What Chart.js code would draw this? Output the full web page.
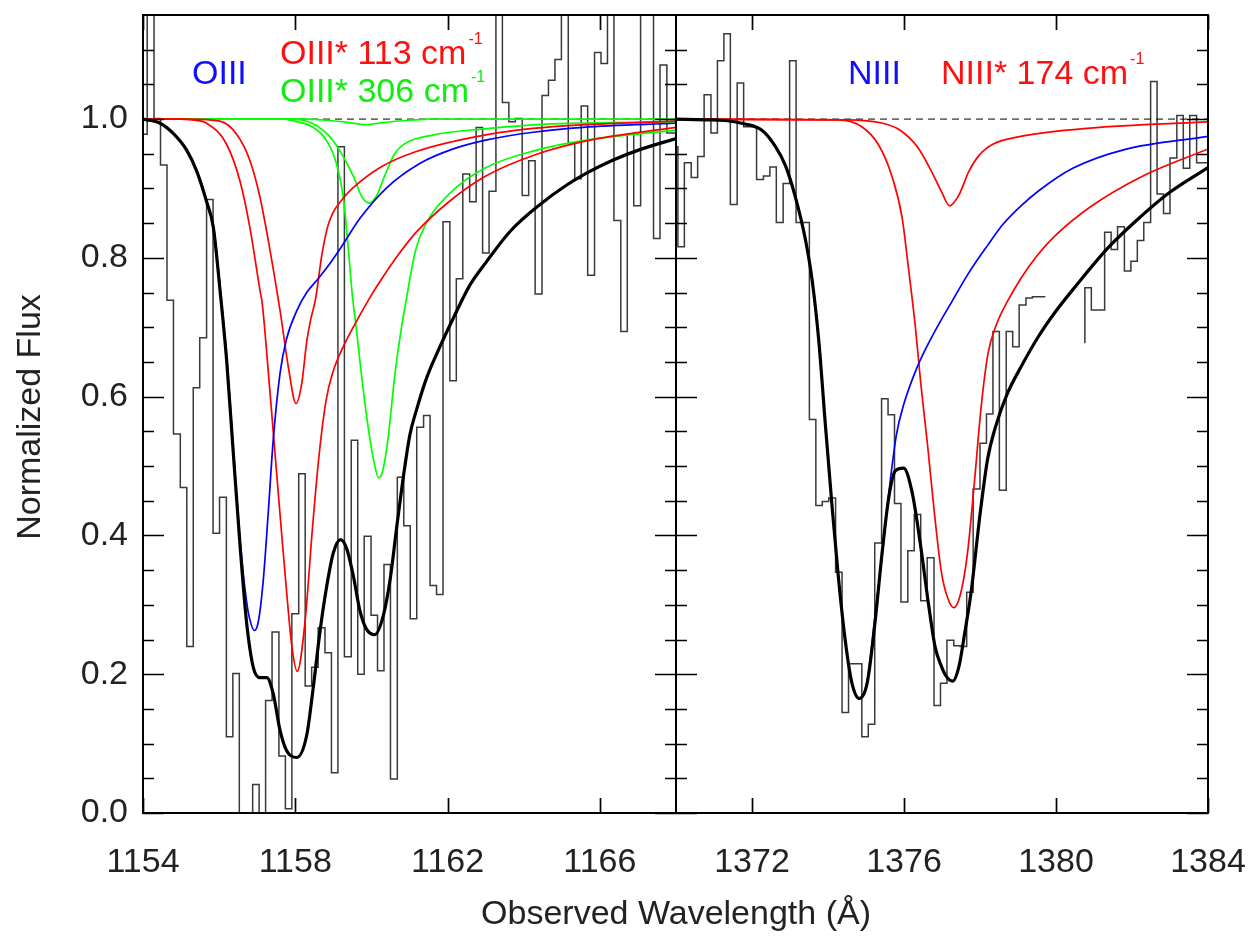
<!DOCTYPE html>
<html>
<head>
<meta charset="utf-8">
<script src="https://cdn.jsdelivr.net/npm/chart.js@4.4.1/dist/chart.umd.min.js"></script>
<style>
html,body{margin:0;padding:0;background:#ffffff;}
#wrap{position:relative;width:1253px;height:938px;overflow:hidden;background:#fff;font-family:"Liberation Sans",Arial,Helvetica,sans-serif;}
#wrap canvas{position:absolute;left:0;top:0;}
.t{position:absolute;white-space:nowrap;font-size:34px;line-height:34px;}
.t .s{font-size:16px;position:relative;top:-20px;margin-left:2px;}
</style>
</head>
<body>
<div id="wrap">
<canvas id="cL" width="1253" height="938"></canvas>
<canvas id="cR" width="1253" height="938"></canvas>
<div class="t" style="left:192px;top:54.5px;color:#1010ff">OIII</div>
<div class="t" style="left:280px;top:34.5px;color:#ff1010">OIII* 113 cm<span class="s">-1</span></div>
<div class="t" style="left:280px;top:73px;color:#10ee10">OIII* 306 cm<span class="s">-1</span></div>
<div class="t" style="left:848px;top:54.5px;color:#1010ff">NIII</div>
<div class="t" style="left:941px;top:54.5px;color:#ff1010">NIII* 174 cm<span class="s">-1</span></div>
<div class="t" style="left:376px;top:895px;width:600px;text-align:center;color:#222">Observed Wavelength (Å)</div>
<div class="t" style="left:11px;top:617px;width:400px;text-align:center;color:#222;transform-origin:0 0;transform:rotate(-90deg)">Normalized Flux</div>
</div>
<script>
// ---------- axis ticks ----------
const yTickValues = [0.0, 0.2, 0.4, 0.6, 0.8, 1.0];
const yMinorValues = [0.05,0.1,0.15,0.25,0.3,0.35,0.45,0.5,0.55,0.65,0.7,0.75,0.85,0.9,0.95,1.05,1.1];
const xTicksLeft = [1154, 1158, 1162, 1166];
const xTicksRight = [1372, 1376, 1380, 1384];
const continuum = [1.0, 1.0];

// ---------- observed spectrum (step histogram) : O III panel ----------
const histLeftEdges = [1153.94,1154.11,1154.29,1154.46,1154.63,1154.80,1154.98,1155.15,1155.32,1155.49,
1155.67,1155.84,1156.01,1156.19,1156.36,1156.53,1156.70,1156.88,1157.05,1157.22,
1157.39,1157.57,1157.74,1157.91,1158.09,1158.26,1158.43,1158.60,1158.78,1158.95,
1159.12,1159.29,1159.47,1159.64,1159.81,1159.99,1160.16,1160.33,1160.50,1160.68,
1160.85,1161.02,1161.19,1161.37,1161.54,1161.71,1161.88,1162.06,1162.23,1162.40,
1162.58,1162.75,1162.92,1163.09,1163.27,1163.44,1163.61,1163.78,1163.96,1164.13,
1164.30,1164.48,1164.65,1164.82,1164.99,1165.17,1165.34,1165.51,1165.68,1165.86,
1166.03,1166.20,1166.37,1166.55,1166.72,1166.89,1167.07,1167.24,1167.41,1167.58,
1167.76,1167.93,1168.10];
const histLeftFlux = [0.903,0.978,1.20,1.001,0.934,0.739,0.546,0.469,0.240,0.613,
0.685,0.884,0.403,0.455,0.110,0.201,-0.05,-0.05,0.041,-0.05,
0.162,0.261,0.082,0.006,0.287,0.489,0.183,0.210,0.267,0.231,
0.058,0.960,0.225,0.537,0.200,0.399,0.285,0.205,0.358,0.049,
0.484,0.414,0.280,0.556,0.573,0.328,0.315,0.852,0.623,0.770,
0.921,0.881,0.988,0.807,0.896,1.20,1.024,0.996,1.001,0.890,
0.940,0.748,1.034,1.056,1.086,1.20,0.966,0.914,1.019,0.775,
1.096,1.080,1.20,0.854,0.694,0.978,0.875,1.20,1.20,0.828,
1.078,0.98];

// ---------- observed spectrum : N III panel ----------
const histRightEdges = [1369.88,1370.05,1370.22,1370.40,1370.57,1370.74,1370.92,1371.09,1371.26,1371.43,
1371.61,1371.78,1371.95,1372.12,1372.30,1372.47,1372.64,1372.82,1372.99,1373.16,
1373.33,1373.51,1373.68,1373.85,1374.02,1374.20,1374.37,1374.54,1374.72,1374.89,
1375.06,1375.23,1375.41,1375.58,1375.75,1375.92,1376.10,1376.27,1376.44,1376.61,
1376.79,1376.96,1377.13,1377.31,1377.48,1377.65,1377.82,1378.00,1378.17,1378.34,
1378.51,1378.69,1378.86,1379.03,1379.21,1379.38,1379.55,1379.72,1379.90,1380.07,
1380.24,1380.41,1380.59,1380.76,1380.93,1381.10,1381.28,1381.45,1381.62,1381.80,
1381.97,1382.14,1382.31,1382.49,1382.66,1382.83,1383.00,1383.18,1383.35,1383.52,
1383.70,1383.87,1384.04];
const histRightFlux = [0.96,0.960,0.816,0.937,0.916,0.946,1.035,0.980,1.084,1.123,
0.877,1.052,0.989,0.989,0.913,0.918,0.931,0.851,0.907,1.084,
0.851,0.851,0.567,0.443,0.449,0.454,0.347,0.145,0.215,0.215,
0.110,0.128,0.389,0.597,0.574,0.446,0.304,0.378,0.430,0.306,
0.368,0.155,0.187,0.249,0.241,0.240,0.318,0.467,0.533,0.575,
0.694,0.465,0.694,0.672,0.732,0.742,0.744,null,null,null,
null,null,null,0.677,0.757,0.725,0.725,0.837,0.812,0.845,
0.781,0.795,0.825,0.851,1.054,0.892,0.864,0.944,1.005,0.929,
1.005,0.937];

// ---------- model profiles : O III panel ----------
const totalLeftWave = [1154.0,1154.45,1154.8,1155.15,1155.41,1155.67,1155.85,1156.02,1156.2,1156.37,1156.55,1156.72,1156.9,1157.07,1157.25,1157.42,1157.6,1157.77,1158.04,1158.3,1158.47,1158.65,1158.82,1159.0,1159.19,1159.35,1159.52,1159.7,1159.87,1160.09,1160.31,1160.49,1160.66,1160.84,1161.01,1161.19,1161.45,1161.8,1162.15,1162.59,1163.03,1163.64,1164.43,1165.13,1165.65,1166.35,1167.05,1168.0];
const totalLeftFlux = [1.0,0.994,0.979,0.955,0.925,0.881,0.843,0.755,0.650,0.520,0.385,0.275,0.209,0.195,0.195,0.172,0.119,0.090,0.080,0.112,0.180,0.262,0.325,0.375,0.394,0.381,0.343,0.291,0.265,0.257,0.284,0.336,0.410,0.485,0.545,0.582,0.627,0.672,0.713,0.761,0.795,0.838,0.877,0.905,0.922,0.941,0.956,0.972];

const o3Wave = [1154.0,1154.45,1154.8,1155.15,1155.41,1155.67,1155.85,1156.02,1156.2,1156.37,1156.55,1156.72,1156.81,1156.93,1157.03,1157.16,1157.29,1157.42,1157.6,1157.77,1158.04,1158.3,1158.6,1158.91,1159.2,1159.7,1160.4,1161.27,1162.15,1163.03,1164.25,1165.56,1168.0];
const o3Flux = [1.0,0.994,0.979,0.955,0.926,0.883,0.846,0.760,0.656,0.527,0.393,0.305,0.278,0.263,0.276,0.336,0.433,0.537,0.634,0.683,0.724,0.750,0.770,0.792,0.815,0.857,0.901,0.936,0.957,0.970,0.981,0.988,0.994];

const o3s113aWave = [1154.0,1155.0,1155.23,1155.67,1156.2,1156.55,1156.81,1157.07,1157.13,1157.3,1157.42,1157.6,1157.77,1157.91,1158.05,1158.26,1158.44,1158.62,1158.81,1158.98,1159.26,1159.62,1159.94,1160.25,1160.7,1161.16,1162.06,1162.97,1164.32,1165.68,1168.0];
const o3s113aFlux = [1.0,1.0,0.999,0.994,0.963,0.910,0.843,0.754,0.735,0.630,0.550,0.430,0.320,0.240,0.204,0.278,0.403,0.513,0.595,0.634,0.672,0.710,0.741,0.768,0.804,0.836,0.882,0.917,0.949,0.969,0.988];

const o3s113bWave = [1154.0,1155.2,1156.02,1156.46,1156.81,1157.07,1157.33,1157.6,1157.82,1158.02,1158.17,1158.3,1158.4,1158.53,1158.7,1158.85,1159.0,1159.2,1159.5,1160.25,1161.16,1162.97,1164.77,1168.0];
const o3s113bFlux = [1.0,1.0,0.997,0.978,0.940,0.888,0.813,0.724,0.642,0.590,0.619,0.679,0.710,0.740,0.805,0.845,0.866,0.882,0.900,0.931,0.953,0.977,0.989,0.997];

const o3s306aWave = [1154.0,1158.3,1158.9,1159.4,1159.84,1160.3,1160.9,1161.6,1168.0];
const o3s306aFlux = [1.0,1.0,0.998,0.995,0.992,0.995,0.998,1.0,1.0];

const o3s306bWave = [1154.0,1157.9,1158.44,1158.9,1159.26,1159.53,1159.75,1159.94,1160.12,1160.34,1160.61,1160.89,1161.61,1162.97,1164.77,1168.0];
const o3s306bFlux = [1.0,1.0,0.994,0.975,0.946,0.917,0.888,0.879,0.888,0.917,0.950,0.965,0.977,0.986,0.993,0.996];

const o3s306cWave = [1154.0,1157.72,1157.99,1158.44,1158.81,1159.08,1159.26,1159.39,1159.5,1159.6,1159.71,1159.89,1160.07,1160.19,1160.3,1160.43,1160.61,1160.79,1160.9,1161.16,1161.43,1162.06,1162.97,1164.32,1165.68,1168.0];
const o3s306cFlux = [1.0,1.0,0.997,0.989,0.970,0.936,0.888,0.815,0.745,0.700,0.645,0.565,0.505,0.483,0.494,0.537,0.629,0.700,0.735,0.811,0.849,0.893,0.929,0.955,0.970,0.984];

// ---------- model profiles : N III panel ----------
const totalRightWave = [1370.0,1370.77,1371.3,1371.82,1372.26,1372.61,1372.88,1373.14,1373.4,1373.58,1373.76,1373.93,1374.11,1374.28,1374.46,1374.63,1374.82,1375.03,1375.24,1375.42,1375.6,1375.77,1375.99,1376.21,1376.43,1376.65,1376.82,1376.98,1377.1,1377.28,1377.45,1377.6,1377.77,1378.0,1378.2,1378.4,1378.7,1379.08,1379.53,1379.98,1380.5,1381.38,1382.08,1382.96,1384.0];
const totalRightFlux = [1.0,0.999,0.998,0.993,0.984,0.961,0.933,0.888,0.828,0.769,0.679,0.560,0.440,0.336,0.246,0.187,0.165,0.187,0.276,0.373,0.455,0.493,0.497,0.463,0.388,0.299,0.239,0.212,0.198,0.190,0.212,0.260,0.320,0.430,0.510,0.555,0.602,0.643,0.686,0.722,0.758,0.815,0.852,0.893,0.930];

const n3Wave = [1370.0,1370.77,1371.3,1371.82,1372.26,1372.61,1372.88,1373.14,1373.4,1373.58,1373.76,1373.93,1374.11,1374.28,1374.46,1374.63,1374.82,1375.03,1375.24,1375.45,1375.63,1375.8,1376.0,1376.35,1376.8,1377.26,1377.7,1378.2,1378.6,1379.1,1379.53,1380.44,1381.8,1384.0];
const n3Flux = [1.0,0.999,0.998,0.993,0.984,0.961,0.933,0.888,0.828,0.769,0.679,0.560,0.440,0.336,0.246,0.187,0.165,0.190,0.285,0.385,0.475,0.545,0.590,0.643,0.693,0.737,0.778,0.818,0.848,0.876,0.896,0.929,0.956,0.975];

const n3s174aWave = [1370.0,1374.5,1375.44,1375.9,1376.35,1376.72,1376.99,1377.2,1377.44,1377.71,1377.98,1378.35,1379.07,1380.89,1384.0];
const n3s174aFlux = [1.0,0.999,0.994,0.984,0.960,0.925,0.895,0.875,0.890,0.925,0.948,0.964,0.975,0.987,0.996];

const n3s174bWave = [1370.0,1374.28,1374.89,1375.33,1375.68,1375.95,1376.12,1376.3,1376.44,1376.62,1376.81,1376.99,1377.17,1377.31,1377.49,1377.67,1377.85,1378.03,1378.21,1378.44,1378.7,1379.07,1379.5,1379.98,1380.89,1382.25,1384.0];
const n3s174bFlux = [1.0,0.999,0.989,0.963,0.918,0.858,0.784,0.700,0.620,0.530,0.427,0.345,0.307,0.296,0.316,0.374,0.475,0.585,0.662,0.705,0.735,0.770,0.803,0.832,0.873,0.917,0.957];

// ---------- helpers ----------
const FONT = '"Liberation Sans", Arial, Helvetica, sans-serif';
const BLUE = '#0000ff', RED = '#ff0000', GREEN = '#00ff00', BLACK = '#000000', HIST = '#3a3a3a';

function zip(xs, ys) {
  const n = Math.min(xs.length, ys.length), out = [];
  for (let i = 0; i < n; i++) out.push({x: xs[i], y: ys[i]});
  return out;
}
function histPoints(edges, vals) {
  const out = [];
  for (let i = 0; i < vals.length; i++) {
    if (vals[i] === null) { out.push({x: edges[i], y: null}); continue; }
    out.push({x: edges[i], y: vals[i]});
    if (i === vals.length - 1 || vals[i + 1] === null) out.push({x: edges[i + 1], y: vals[i]});
  }
  return out;
}
function curve(pts, color, width, order) {
  return {data: pts, borderColor: color, borderWidth: width, pointRadius: 0, fill: false,
          order: order, clip: 0, cubicInterpolationMode: 'monotone', tension: 0.4};
}
function makeFrame(xt) {
  return {
    id: 'frame',
    afterDatasetsDraw(chart) {
      const ctx = chart.ctx, a = chart.chartArea, xs = chart.scales.x, ys = chart.scales.y;
      ctx.save();
      ctx.strokeStyle = '#000';
      ctx.lineWidth = 1.7;
      ctx.beginPath();
      yTickValues.forEach(v => { const p = Math.round(ys.getPixelForValue(v)) + 0.5;
        ctx.moveTo(a.left, p); ctx.lineTo(a.left + 21, p); ctx.moveTo(a.right, p); ctx.lineTo(a.right - 21, p); });
      yMinorValues.forEach(v => { const p = Math.round(ys.getPixelForValue(v)) + 0.5;
        ctx.moveTo(a.left, p); ctx.lineTo(a.left + 11, p); ctx.moveTo(a.right, p); ctx.lineTo(a.right - 11, p); });
      xt.forEach(v => { const p = Math.round(xs.getPixelForValue(v)) + 0.5;
        ctx.moveTo(p, a.bottom); ctx.lineTo(p, a.bottom - 15); ctx.moveTo(p, a.top); ctx.lineTo(p, a.top + 15); });
      ctx.stroke();
      ctx.lineWidth = 2;
      ctx.strokeRect(a.left, a.top, a.right - a.left, a.bottom - a.top);
      ctx.restore();
    }
  };
}
function build(id, xmin, xmax, xt, padL, padR, showY, datasets) {
  return new Chart(document.getElementById(id), {
    type: 'line',
    data: {datasets: datasets},
    options: {
      responsive: false, animation: false, devicePixelRatio: 1, events: [],
      layout: {padding: {left: padL, right: padR, top: 15, bottom: 0}},
      plugins: {legend: {display: false}, tooltip: {enabled: false}, title: {display: false}},
      scales: {
        x: {type: 'linear', min: xmin, max: xmax,
            grid: {display: false, drawTicks: false}, border: {display: false},
            afterBuildTicks: s => { s.ticks = xt.map(v => ({value: v})); },
            afterFit: s => { s.height = 125; s.paddingLeft = 0; s.paddingRight = 0; },
            ticks: {autoSkip: false, maxRotation: 0, minRotation: 0, padding: 29, color: '#222',
                    font: {family: FONT, size: 34}, callback: v => String(v)}},
        y: {type: 'linear', min: 0, max: 1.15, display: showY,
            grid: {display: false, drawTicks: false}, border: {display: false},
            afterBuildTicks: s => { s.ticks = yTickValues.map(v => ({value: v})); },
            afterFit: s => { s.width = showY ? 143 : 0; s.paddingTop = 0; s.paddingBottom = 0; },
            ticks: {padding: 15, color: '#222', font: {family: FONT, size: 34},
                    callback: v => Number(v).toFixed(1)}}
      }
    },
    plugins: [makeFrame(xt)]
  });
}

// ---------- left panel (O III) ----------
build('cL', 1154, 1168, xTicksLeft, 0, 1253 - 676, true, [
  curve(zip(totalLeftWave, totalLeftFlux), BLACK, 3.2, 0),
  curve(zip(o3Wave, o3Flux), BLUE, 1.7, 1),
  curve(zip(o3s113aWave, o3s113aFlux), RED, 1.7, 2),
  curve(zip(o3s113bWave, o3s113bFlux), RED, 1.7, 3),
  curve(zip(o3s306aWave, o3s306aFlux), GREEN, 1.7, 4),
  curve(zip(o3s306bWave, o3s306bFlux), GREEN, 1.7, 5),
  curve(zip(o3s306cWave, o3s306cFlux), GREEN, 1.7, 6),
  {data: zip([1154, 1168], continuum), borderColor: '#000', borderWidth: 1, borderDash: [7, 5],
   pointRadius: 0, fill: false, order: 7, clip: 0},
  {data: histPoints(histLeftEdges, histLeftFlux), borderColor: HIST, borderWidth: 1.5, stepped: 'after',
   pointRadius: 0, fill: false, spanGaps: false, order: 8, clip: 0}
]);

// ---------- right panel (N III) ----------
build('cR', 1370, 1384, xTicksRight, 676, 1253 - 1208, false, [
  curve(zip(totalRightWave, totalRightFlux), BLACK, 3.2, 0),
  curve(zip(n3Wave, n3Flux), BLUE, 1.7, 1),
  curve(zip(n3s174aWave, n3s174aFlux), RED, 1.7, 2),
  curve(zip(n3s174bWave, n3s174bFlux), RED, 1.7, 3),
  {data: zip([1370, 1384], continuum), borderColor: '#000', borderWidth: 1, borderDash: [7, 5],
   pointRadius: 0, fill: false, order: 7, clip: 0},
  {data: histPoints(histRightEdges, histRightFlux), borderColor: HIST, borderWidth: 1.5, stepped: 'after',
   pointRadius: 0, fill: false, spanGaps: false, order: 8, clip: 0}
]);
</script>
</body>
</html>
